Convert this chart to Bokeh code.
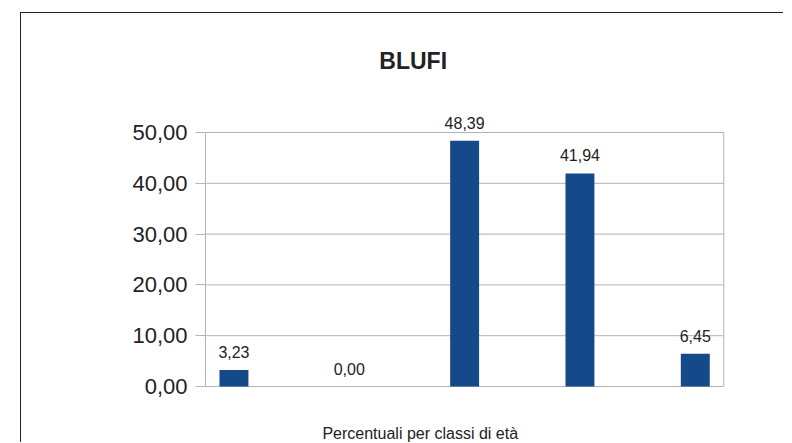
from bokeh.plotting import figure
from bokeh.models import ColumnDataSource, LabelSet, Label, FixedTicker, Range1d
from bokeh.core.properties import value
from bokeh.embed import file_html
from bokeh.resources import INLINE

# Data
categories = ["1", "2", "3", "4", "5"]
values = [3.23, 0.00, 48.39, 41.94, 6.45]
value_labels = ["3,23", "0,00", "48,39", "41,94", "6,45"]
y_ticks = [0, 10, 20, 30, 40, 50]
y_tick_labels = ["0,00", "10,00", "20,00", "30,00", "40,00", "50,00"]
title_text = "BLUFI"
x_label_text = "Percentuali per classi di età"

FONT = "Liberation Sans"
TEXT = "#222222"
GRID = "#b3b3b3"
BAR = "#15498a"

X0, X1 = -0.24675, 4.2468   # plot box edges (category units)
Y0, Y1 = 0, 50

xs = list(range(len(categories)))
source = ColumnDataSource(dict(x=xs, top=values, label=value_labels))

p = figure(
    width=763, height=430,
    output_backend="svg", toolbar_location=None,
    x_axis_location=None,
    x_range=Range1d(X0, 4.34), y_range=Range1d(-11.22, 73.425),
    min_border_left=184, min_border_right=50,
    min_border_top=0, min_border_bottom=0,
)
p.margin = (12, 0, 0, 20)
p.styles = {"border-left": "1px solid #222222", "border-top": "1px solid #222222"}

# grid lines and right border of the plot box
p.segment(x0=[X0] * len(y_ticks), y0=y_ticks, x1=[X1] * len(y_ticks), y1=y_ticks,
          line_color=GRID, line_width=1)
p.segment(x0=[X1], y0=[Y0], x1=[X1], y1=[Y1], line_color=GRID, line_width=1)

p.vbar(x="x", top="top", width=0.251, bottom=0, source=source,
       fill_color=BAR, line_color=None)

labels = LabelSet(x="x", y="top", text="label", source=source,
                  y_offset=12, text_align="center", text_baseline="alphabetic",
                  text_font=value(FONT), text_font_size=value("16px"),
                  text_color=value(TEXT))
p.add_layout(labels)

p.add_layout(Label(x=1.554, y=64.17, text=title_text, text_align="center",
                   text_baseline="alphabetic", text_font=FONT,
                   text_font_size="23px", text_font_style="bold",
                   text_color=TEXT))
p.add_layout(Label(x=1.615, y=-9.31, text=x_label_text, text_align="center",
                   text_baseline="alphabetic", text_font=FONT,
                   text_font_size="16px", text_color=TEXT))

p.xgrid.visible = False
p.ygrid.visible = False

p.yaxis.ticker = FixedTicker(ticks=y_ticks)
p.yaxis.bounds = (Y0, Y1)
p.yaxis.major_label_overrides = {t: l for t, l in zip(y_ticks, y_tick_labels)}
p.yaxis.major_label_text_font = FONT
p.yaxis.major_label_text_font_size = "22px"
p.yaxis.major_label_text_color = TEXT
p.yaxis.major_label_standoff = 8
p.yaxis.major_tick_out = 10
p.yaxis.major_tick_in = 0
p.yaxis.minor_tick_line_color = None
p.yaxis.major_tick_line_color = GRID
p.yaxis.axis_line_color = GRID

p.outline_line_color = None
p.background_fill_color = "white"
p.border_fill_color = "white"

open("out.html", "w").write(file_html(p, INLINE))
